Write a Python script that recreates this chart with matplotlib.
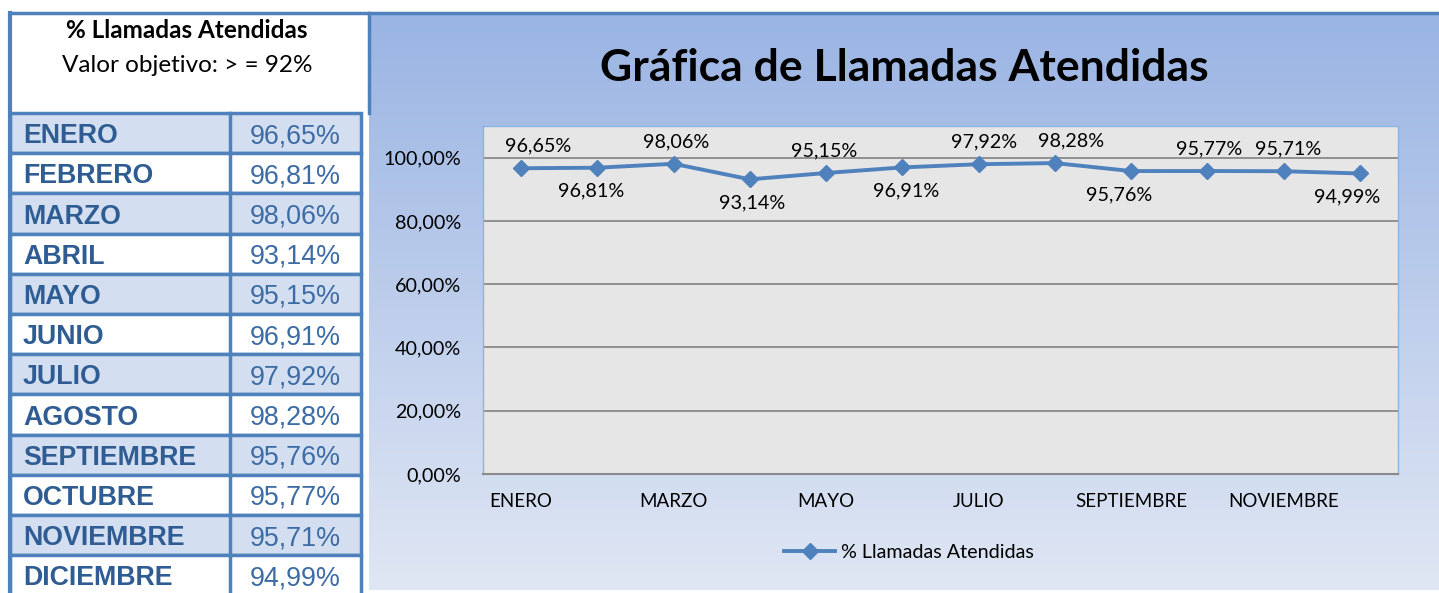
import numpy as np
import matplotlib
matplotlib.use('Agg')
import matplotlib.pyplot as plt
from matplotlib.patches import Rectangle
from matplotlib.ticker import FuncFormatter

# data
months = ['ENERO', 'FEBRERO', 'MARZO', 'ABRIL', 'MAYO', 'JUNIO', 'JULIO',
          'AGOSTO', 'SEPTIEMBRE', 'OCTUBRE', 'NOVIEMBRE', 'DICIEMBRE']
pct = [96.65, 96.81, 98.06, 93.14, 95.15, 96.91, 97.92, 98.28, 95.76, 95.77, 95.71, 94.99]
label_side = ['above', 'below', 'above', 'below', 'above', 'below',
              'above', 'above', 'below', 'above', 'above', 'below']
y_ticks = [0, 20, 40, 60, 80, 100]
series_name = '% Llamadas Atendidas'
table_title = '% Llamadas Atendidas'
table_sub = 'Valor objetivo: > = 92%'
chart_title = 'Gráfica de Llamadas Atendidas'

W, H = 1439, 593
fig = plt.figure(figsize=(W / 100, H / 100), dpi=100)
fig.patch.set_facecolor('white')


def px_axes(x0, y0, x1, y1, **kw):
    return fig.add_axes([x0 / W, 1 - y1 / H, (x1 - x0) / W, (y1 - y0) / H], **kw)


def fmt(v):
    return f'{v:.2f}'.replace('.', ',') + '%'


blue = '#4f81bd'
txt_blue = '#2f5d93'
cfont = 'Lato'
small = 14.2

# ---- background canvas in pixel coords
bg = px_axes(0, 0, W, H)
bg.set_xlim(0, W)
bg.set_ylim(H, 0)
bg.axis('off')

# chart panel gradient
grad = np.linspace(0, 1, 256).reshape(-1, 1)
top_c = np.array([0x9a, 0xb4, 0xe3]) / 255
bot_c = np.array([0xe0, 0xe7, 0xf4]) / 255
img = top_c + (bot_c - top_c) * grad[..., None]
bg.imshow(img, extent=[369, W, 590, 14], aspect='auto', zorder=0)
bg.plot([10, W], [13, 13], color=blue, lw=2.5, zorder=3)

# ---- table
bg.plot([10, 10], [13, H], color=blue, lw=3, zorder=3)
bg.plot([369, 369], [13, 113], color=blue, lw=2.5, zorder=3)
bg.text(187, 31, table_title, ha='center', va='center', fontsize=17.5,
        fontweight='bold', family=cfont, color='black')
bg.text(187, 65, table_sub, ha='center', va='center', fontsize=17.5,
        family=cfont, color='black')
row_top, row_h = 113, 40.2
for i, (m, v) in enumerate(zip(months, pct)):
    y0 = row_top + i * row_h
    fc = '#d3dff0' if i % 2 == 0 else 'white'
    bg.add_patch(Rectangle((10, y0), 351, row_h, facecolor=fc, edgecolor=blue,
                           lw=2.5, zorder=1))
    bg.plot([230, 230], [y0, y0 + row_h], color=blue, lw=2.5, zorder=2)
    bg.text(23, y0 + row_h / 2 + 3, m, ha='left', va='center', fontsize=19.3,
            fontweight='bold', family='Liberation Sans', color=txt_blue, zorder=4)
    bg.text(295, y0 + row_h / 2 + 3, fmt(v), ha='center', va='center', fontsize=19.4,
            family='Liberation Sans', color='#3d6ca5', zorder=4)

# ---- chart title
bg.text(904, 68, chart_title, ha='center', va='center', fontsize=32,
        fontweight='bold', family=cfont, color='black', zorder=4)

# ---- line chart
ax = px_axes(483, 126, 1398, 474)
ax.set_facecolor('#e6e6e6')
x = np.arange(len(months))
vals = np.array(pct) / 100
ax.plot(x, vals, color=blue, lw=2.8, marker='D', markersize=8,
        label=series_name, zorder=3)
ax.set_xlim(-0.5, len(months) - 0.5)
ax.set_ylim(0, 1.1)
ax.set_yticks([t / 100 for t in y_ticks])
ax.yaxis.set_major_formatter(FuncFormatter(lambda v, p: fmt(v * 100)))
ax.set_xticks(x[::2])
ax.set_xticklabels(months[::2])
ax.tick_params(length=0, labelsize=small)
ax.tick_params(axis='x', labelsize=13.5, pad=14)
ax.tick_params(axis='y', pad=16)
for lab in ax.get_xticklabels() + ax.get_yticklabels():
    lab.set_family(cfont)
ax.grid(axis='y', color='#8a8a8a', lw=1.3)
ax.set_axisbelow(True)
for s in ['left', 'top', 'right']:
    ax.spines[s].set_color('#8db3e2')
    ax.spines[s].set_linewidth(1)
ax.spines['bottom'].set_color('#8a8a8a')
ax.spines['bottom'].set_linewidth(1.5)

label_nudge = [17, -6, 2, 2, -2, 4, 5, 16, -12, 2, 5, -13]
for i, v in enumerate(vals):
    dy = 16 if label_side[i] == 'above' else -17
    ax.annotate(fmt(pct[i]), (x[i], v), xytext=(label_nudge[i] * 0.72, dy),
                textcoords='offset points', ha='center', va='center',
                fontsize=small, family=cfont, color='black')

fig.legend(loc='center', bbox_to_anchor=(909 / W, 1 - 552 / H), frameon=False,
           prop={'family': cfont, 'size': small}, handlelength=2.6,
           handletextpad=0.3)

fig.savefig('out.png', dpi=100)
